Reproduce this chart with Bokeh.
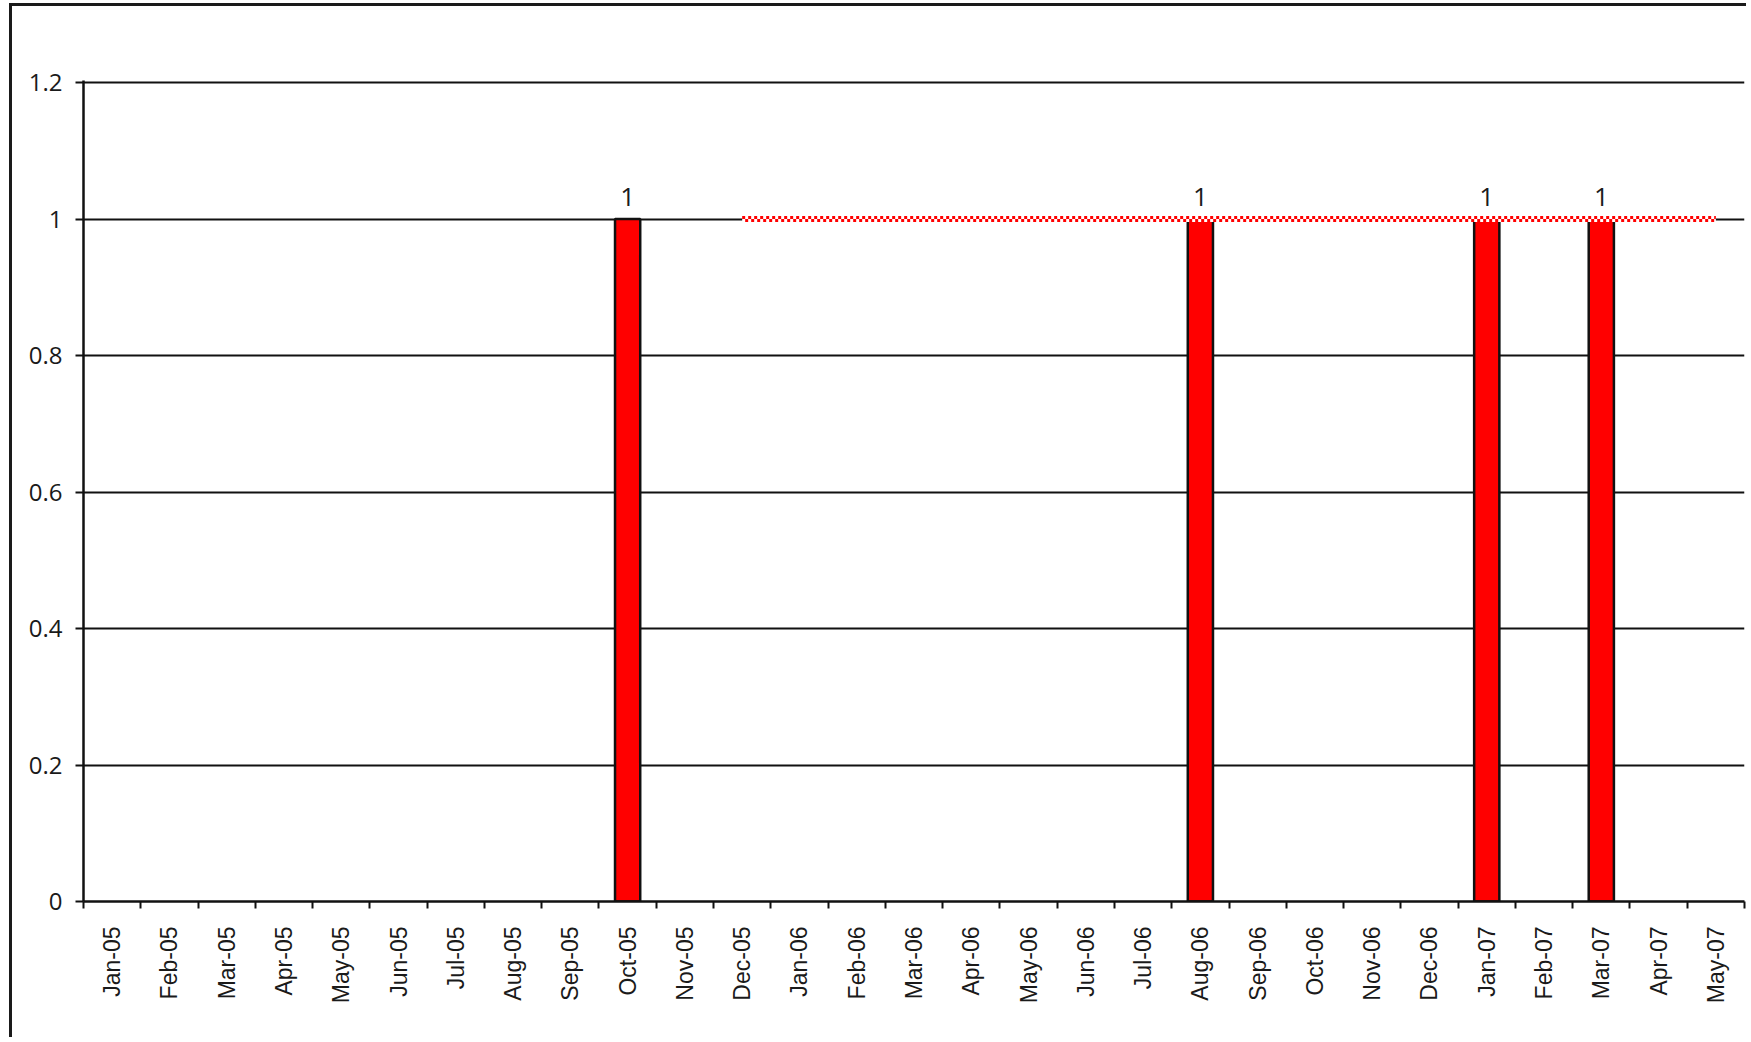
import math
from bokeh.plotting import figure
from bokeh.models import Range1d, FixedTicker
from bokeh.core.properties import value
from bokeh.embed import file_html
from bokeh.resources import INLINE

# ---- data ----
months = ["Jan-05", "Feb-05", "Mar-05", "Apr-05", "May-05", "Jun-05", "Jul-05",
          "Aug-05", "Sep-05", "Oct-05", "Nov-05", "Dec-05", "Jan-06", "Feb-06",
          "Mar-06", "Apr-06", "May-06", "Jun-06", "Jul-06", "Aug-06", "Sep-06",
          "Oct-06", "Nov-06", "Dec-06", "Jan-07", "Feb-07", "Mar-07", "Apr-07",
          "May-07"]
counts = [0, 0, 0, 0, 0, 0, 0, 0, 0, 1, 0, 0, 0, 0, 0, 0, 0, 0, 0, 1, 0, 0, 0, 0,
          1, 0, 1, 0, 0]
target = [None, None, None, None, None, None, None, None, None, None, None,
          1, 1, 1, 1, 1, 1, 1, 1, 1, 1, 1, 1, 1, 1, 1, 1, 1, 1]
y_ticks = [0, 0.2, 0.4, 0.6, 0.8, 1.0, 1.2]
y_tick_labels = ["0", "0.2", "0.4", "0.6", "0.8", "1", "1.2"]

# ---- layout ----
W, H = 1737, 1034
MB_L, MB_R, MB_T, MB_B = 71, 5, 74, 139
Y_END = 1.203
frame_h = H - MB_T - MB_B
px = Y_END / frame_h  # data units per pixel

p = figure(width=W, height=H, x_range=Range1d(0, len(months)),
           y_range=Range1d(0, Y_END), output_backend="svg",
           toolbar_location=None, min_border_left=MB_L, min_border_right=MB_R,
           min_border_top=MB_T, min_border_bottom=MB_B,
           background_fill_color="white", border_fill_color="white")
p.styles = {"border-left": "3px solid #1a1a1a", "border-top": "3px solid #1a1a1a",
            "margin-left": "9px", "margin-top": "3px"}
p.outline_line_color = None

# x axis
centers = [i + 0.5 for i in range(len(months))]
p.xaxis.ticker = FixedTicker(ticks=centers, minor_ticks=list(range(len(months) + 1)))
p.xaxis.major_label_overrides = {c: m for c, m in zip(centers, months)}
p.xaxis.major_tick_out = 0
p.xaxis.major_tick_in = 0
p.xaxis.minor_tick_out = 7
p.xaxis.minor_tick_in = 0
p.xaxis.minor_tick_line_width = 2
p.xaxis.minor_tick_line_color = "#111111"
p.xaxis.axis_line_width = 2.5
p.xaxis.axis_line_color = "#111111"
p.xaxis.major_label_orientation = math.pi / 2
p.xaxis.major_label_standoff = 18
p.xaxis.major_label_text_font = "Liberation Sans"
p.xaxis.major_label_text_font_size = "23px"
p.xaxis.major_label_text_color = "#1a1a1a"

# y axis
p.yaxis.ticker = FixedTicker(ticks=y_ticks)
p.yaxis.major_label_overrides = {t: l for t, l in zip(y_ticks, y_tick_labels)}
p.yaxis.major_tick_out = 8
p.yaxis.major_tick_in = 0
p.yaxis.minor_tick_out = 0
p.yaxis.minor_tick_in = 0
p.yaxis.major_tick_line_width = 2
p.yaxis.major_tick_line_color = "#111111"
p.yaxis.axis_line_width = 2.5
p.yaxis.axis_line_color = "#111111"
p.yaxis.major_label_standoff = 13
p.yaxis.major_label_text_font = "Open Sans"
p.yaxis.major_label_text_font_size = "24px"
p.yaxis.major_label_text_color = "#1a1a1a"

p.xgrid.visible = False
p.ygrid.ticker = FixedTicker(ticks=y_ticks)
p.ygrid.grid_line_color = "#111111"
p.ygrid.grid_line_width = 2
p.ygrid.grid_line_alpha = 1

# bars
bx = [c for c, v in zip(centers, counts) if v]
bt = [v for v in counts if v]
p.vbar(x=bx, top=bt, bottom=0, width=0.44, fill_color="#ff0000",
       line_color="#111111", line_width=2.5)

# target line (checkered red)
tx = [c for c, t in zip(centers, target) if t is not None]
ty = [t for t in target if t is not None]
p.line(tx, ty, line_color="white", line_width=6)
p.line(tx, [t + 1.5 * px for t in ty], line_color="#ff0000", line_width=3,
       line_dash="3 3", line_cap="butt")
p.line(tx, [t - 1.5 * px for t in ty], line_color="#ff0000", line_width=3,
       line_dash="3 3", line_dash_offset=3, line_cap="butt")

# bar labels
p.text(x=bx, y=bt, text=[str(v) for v in bt], text_align="center",
       text_baseline="alphabetic", y_offset=-22, text_font=value("Open Sans"),
       text_font_size="26px", text_color="#1a1a1a")

open("out.html", "w").write(file_html(p, INLINE))
